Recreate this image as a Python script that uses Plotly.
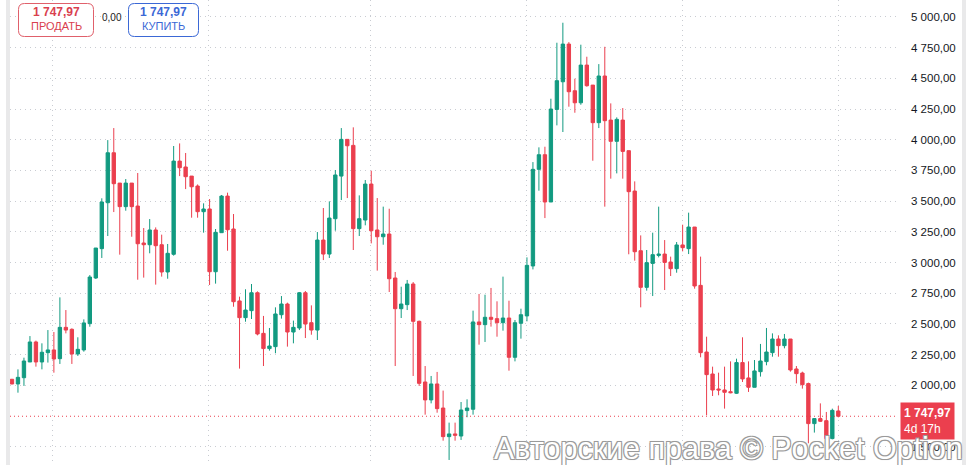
import plotly.graph_objects as go

# ---- data ----
opens = [2049, 2011, 2062, 2190, 2353, 2190, 2266, 2288, 2217, 2472,
         2456, 2255, 2288, 2502, 2874, 3113, 3487, 3894, 3647, 3455,
         3647, 3460, 3159, 3145, 3265, 3145, 2923, 3067, 3826, 3778,
         3704, 3623, 3414, 3436, 2925, 3243, 3541, 3273, 2687, 2551,
         2608, 2754, 2423, 2299, 2315, 2575, 2662, 2434, 2467, 2754,
         2510, 2450, 3183, 3069, 3357, 3704, 4003, 3954, 3276, 3346,
         3639, 3265, 3210, 3232, 2874, 2624, 2657, 2825, 2521, 2027,
         1881, 2011, 1815, 1582, 1604, 1587, 1794, 1805, 2516, 2494,
         2554, 2543, 2510, 2548, 2228, 2505, 2565, 2972, 3759, 3878,
         3493, 4247, 4472, 4779, 4399, 4301, 4608, 4445, 4139, 4519,
         4160, 3987, 4160, 3911, 3582, 3096, 2798, 2993, 3058, 3069,
         3004, 2950, 3143, 3113, 3289, 2814, 2271, 2092, 1970, 1962,
         1948, 1935, 2185, 2060, 1984, 2111, 2193, 2266, 2377, 2323,
         2377, 2133, 2100, 2014, 1688, 1729, 1712, 1566, 1791]
highs = [2052, 2130, 2225, 2401, 2364, 2342, 2450, 2434, 2716, 2613,
         2464, 2391, 2537, 2898, 3118, 3523, 3997, 4095, 3647, 3680,
         3647, 3729, 3281, 3354, 3286, 3227, 3151, 3949, 3970, 3892,
         3704, 3636, 3482, 3517, 3273, 3550, 3569, 3395, 2722, 2782,
         2825, 2765, 2565, 2467, 2635, 2727, 2673, 2527, 2760, 2768,
         2651, 3248, 3444, 3498, 3753, 4095, 4003, 4101, 3547, 3672,
         3748, 3525, 3455, 3438, 2923, 2803, 2858, 2841, 2527, 2157,
         2076, 2109, 1957, 1696, 1696, 1864, 1886, 2608, 2744, 2738,
         2793, 2684, 2885, 2689, 2532, 2624, 3042, 3818, 3938, 3943,
         4334, 4790, 4953, 4795, 4497, 4774, 4676, 4445, 4616, 4757,
         4296, 4182, 4258, 3911, 3661, 3221, 3102, 3243, 3455, 3183,
         3048, 3167, 3308, 3406, 3289, 3048, 2396, 2152, 2103, 2152,
         2195, 2217, 2391, 2195, 2206, 2337, 2467, 2423, 2407, 2418,
         2377, 2157, 2111, 2022, 1729, 1853, 1783, 1810, 1832]
lows = [2008, 1940, 1995, 2190, 2152, 2130, 2185, 2103, 2174, 2423,
        2174, 2239, 2274, 2477, 2866, 3037, 3216, 3411, 3064, 3422,
        3210, 2860, 2877, 3075, 2820, 2885, 2868, 3056, 3704, 3598,
        3365, 3365, 3243, 2817, 2828, 3243, 3096, 2640, 2136, 2518,
        2540, 2407, 2157, 2282, 2261, 2543, 2315, 2342, 2450, 2385,
        2412, 2369, 3020, 3037, 3259, 3509, 3525, 3102, 3216, 3303,
        3156, 2934, 3145, 2760, 2157, 2548, 2613, 2076, 1995, 1761,
        1853, 1777, 1549, 1392, 1549, 1555, 1740, 1761, 2331, 2353,
        2478, 2396, 2445, 2119, 2195, 2380, 2521, 2944, 3585, 3362,
        3493, 4117, 4063, 4269, 4220, 4285, 4432, 3829, 4095, 3455,
        3683, 3726, 3683, 3067, 3015, 2635, 2771, 2727, 3042, 2776,
        2890, 2917, 3091, 3069, 2787, 2228, 1756, 1913, 1919, 1810,
        1935, 1929, 2027, 1946, 1984, 2071, 2163, 2233, 2233, 2301,
        2111, 2016, 1973, 1528, 1615, 1701, 1528, 1560, 1739]
closes = [2011, 2065, 2198, 2353, 2190, 2269, 2288, 2214, 2472, 2450,
          2255, 2293, 2508, 2882, 3118, 3493, 3894, 3642, 3455, 3647,
          3455, 3153, 3145, 3265, 3137, 2923, 3075, 3826, 3772, 3699,
          3617, 3414, 3436, 2925, 3246, 3541, 3267, 2681, 2551, 2613,
          2754, 2418, 2299, 2320, 2581, 2662, 2434, 2472, 2754, 2499,
          2450, 3183, 3069, 3362, 3713, 4003, 3951, 3276, 3357, 3639,
          3259, 3210, 3232, 2868, 2624, 2662, 2825, 2521, 2016, 1881,
          2011, 1810, 1582, 1604, 1593, 1799, 1815, 2516, 2494, 2554,
          2537, 2510, 2548, 2228, 2510, 2575, 2977, 3759, 3878, 3493,
          4250, 4481, 4779, 4391, 4301, 4608, 4440, 4139, 4519, 4155,
          3987, 4166, 3905, 3577, 3088, 2798, 2999, 3064, 3069, 3001,
          2950, 3143, 3121, 3289, 2809, 2266, 2087, 1962, 1962, 1943,
          1940, 2185, 2052, 1984, 2117, 2198, 2271, 2377, 2323, 2377,
          2125, 2095, 2005, 1688, 1729, 1707, 1566, 1796, 1747.97]
candle_index = list(range(len(opens)))
time_grid = [6.7, 32.8, 59.8, 86.0, 112.0, 138.0]
price_ticks = [1500, 2000, 2250, 2500, 2750, 3000, 3250, 3500, 3750,
               4000, 4250, 4500, 4750, 5000]
last_price = 1747.97
last_price_text = "1 747,97"
countdown_text = "4d 17h"
sell_label = "ПРОДАТЬ"
buy_label = "КУПИТЬ"
spread_text = "0,00"
watermark = "Авторские права © Pocket Option"

# ---- styling ----
GREEN = "#129a80"
RED = "#eb3f4e"
BLUE = "#3b68d6"
GRID = "#c9ccd2"
W, H = 966, 465
ML, MR = 10, 69
PW = W - ML - MR


def px(x):
    return (x - ML) / PW


def py(y):
    return 1 - y / H


def rounded_rect(x0, y0, x1, y1, r):
    rx = r / PW
    ry = r / H
    X0, X1 = px(x0), px(x1)
    Y0, Y1 = py(y0), py(y1)
    return (f"M {X0+rx},{Y0} L {X1-rx},{Y0} Q {X1},{Y0} {X1},{Y0-ry} "
            f"L {X1},{Y1+ry} Q {X1},{Y1} {X1-rx},{Y1} L {X0+rx},{Y1} "
            f"Q {X0},{Y1} {X0},{Y1+ry} L {X0},{Y0-ry} Q {X0},{Y0} {X0+rx},{Y0} Z")


fig = go.Figure()
fig.add_trace(go.Candlestick(
    x=candle_index, open=opens, high=highs, low=lows, close=closes,
    increasing=dict(line=dict(color=GREEN, width=1), fillcolor=GREEN),
    decreasing=dict(line=dict(color=RED, width=1), fillcolor=RED),
    whiskerwidth=0, hoverinfo="skip", showlegend=False,
))

shapes = []
shapes.append(dict(type="line", xref="paper", yref="y", x0=0, x1=1,
                   y0=last_price, y1=last_price,
                   line=dict(color=RED, width=1, dash="1px,3px"), layer="above"))
shapes.append(dict(type="rect", xref="paper", yref="paper", x0=px(6), x1=px(10),
                   y0=0, y1=1, fillcolor="#e9e9ea", line=dict(width=0)))
shapes.append(dict(type="rect", xref="paper", yref="paper", x0=px(962), x1=px(966),
                   y0=0, y1=1, fillcolor="#e9e9ea", line=dict(width=0)))
shapes.append(dict(type="path", xref="paper", yref="paper",
                   path=rounded_rect(18.5, 3.5, 93.5, 36.5, 6),
                   fillcolor="white", line=dict(color="#e0606b", width=1), layer="above"))
shapes.append(dict(type="path", xref="paper", yref="paper",
                   path=rounded_rect(128.5, 3.5, 198.5, 36.5, 6),
                   fillcolor="white", line=dict(color=BLUE, width=1), layer="above"))

FF = "Liberation Sans"
ann = []


def label(x, y, text, size, color):
    ann.append(dict(xref="paper", yref="paper", x=px(x), y=py(y), xanchor="center",
                    yanchor="middle", text=text, showarrow=False,
                    font=dict(size=size, color=color, family=FF)))


label(56, 12, f"<b>{last_price_text}</b>", 12, "#d9404e")
label(56, 26, sell_label, 11, "#d9404e")
label(112, 17, spread_text, 10, "#222222")
label(163.5, 12, f"<b>{last_price_text}</b>", 12, BLUE)
label(163.5, 26, buy_label, 11, BLUE)

ann.append(dict(xref="paper", yref="y", x=px(900), y=last_price, xanchor="left", yanchor="middle",
                yshift=-5, text=f"<b>{last_price_text}</b><br>{countdown_text}", align="left",
                showarrow=False, bgcolor=RED, borderpad=3,
                font=dict(size=12, color="white", family=FF)))
ann.append(dict(xref="paper", yref="paper", x=px(492), y=py(468), xanchor="left", yanchor="bottom",
                text=watermark, showarrow=False,
                font=dict(size=30.5, color="white", family=FF,
                          shadow="-1px -1px 0 #9a9a9a, 1px -1px 0 #9a9a9a, -1px 1px 0 #9a9a9a, "
                                 "1px 1px 0 #9a9a9a, 0 0 2px #aaaaaa")))

fig.update_layout(
    width=W, height=H,
    margin=dict(l=ML, r=MR, t=0, b=0, pad=0),
    paper_bgcolor="white", plot_bgcolor="white",
    separators=", ",
    boxgap=0.2,
    shapes=shapes, annotations=ann,
    showlegend=False,
    font=dict(family=FF, color="#131722"),
    xaxis=dict(range=[-0.33, 147.8], rangeslider=dict(visible=False),
               tickvals=time_grid, showticklabels=False, ticks="",
               showgrid=True, gridcolor=GRID, griddash="1px,4px", gridwidth=1,
               zeroline=False, showline=False, fixedrange=True),
    yaxis=dict(range=[1351, 5138], side="right", tickvals=price_ticks,
               tickformat=",.2f", ticks="", ticklabelstandoff=13,
               tickfont=dict(size=11.5, color="#131722", family=FF),
               showgrid=True, gridcolor=GRID, griddash="1px,4px", gridwidth=1,
               zeroline=False, showline=False, fixedrange=True),
)

fig.write_html("out.html")
